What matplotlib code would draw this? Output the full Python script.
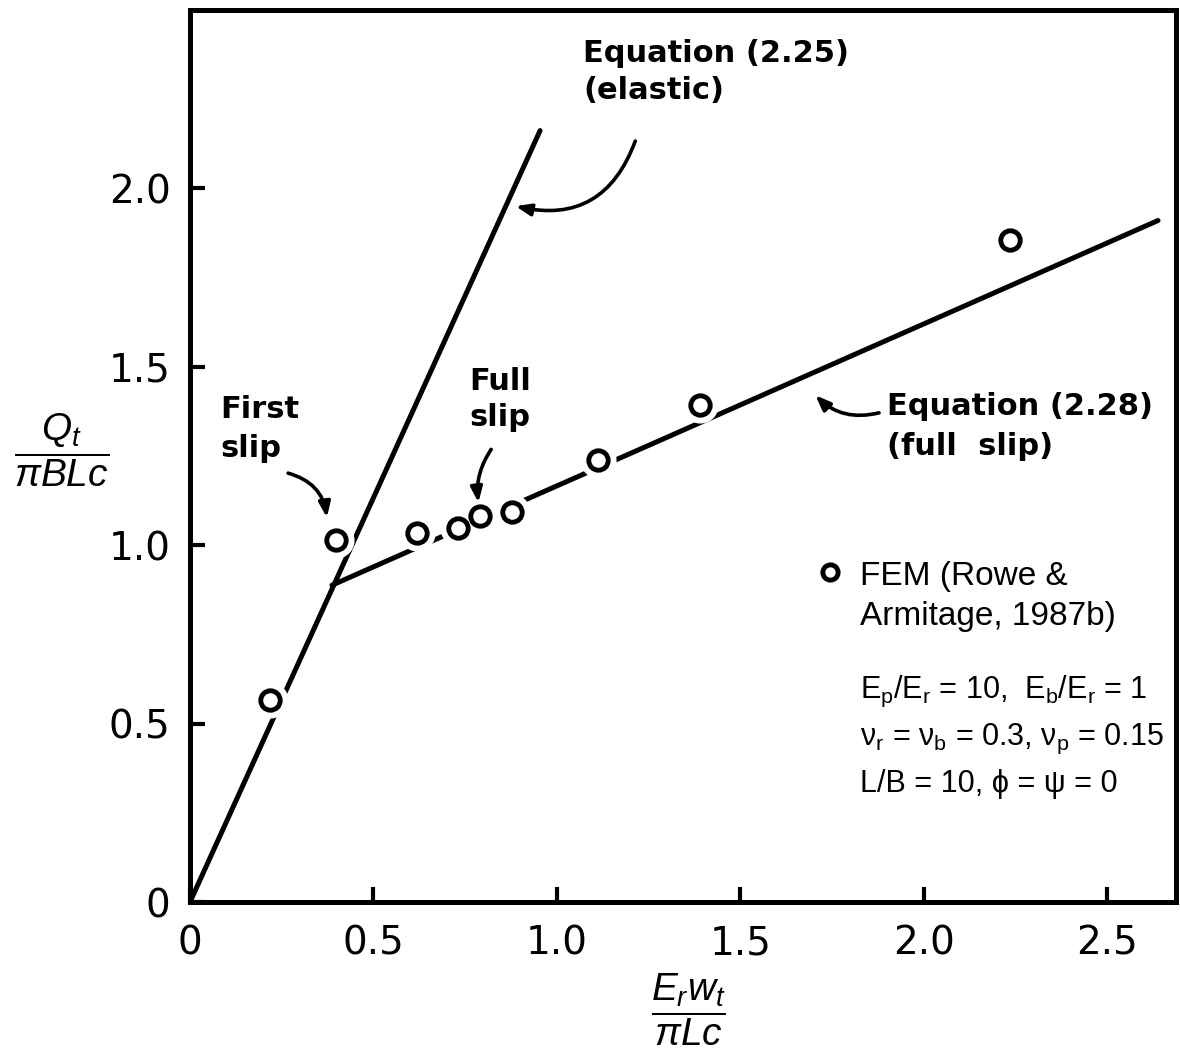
import matplotlib
matplotlib.use("Agg")
import matplotlib.pyplot as plt

plt.rcParams['font.family'] = ['DejaVu Sans']
plt.rcParams['mathtext.fontset'] = 'custom'
plt.rcParams['mathtext.rm'] = 'Liberation Sans'
plt.rcParams['mathtext.it'] = 'Liberation Sans:italic'
plt.rcParams['mathtext.bf'] = 'Liberation Sans:bold'

# ---- data ----
fem_x = [0.218, 0.398, 0.619, 0.730, 0.790, 0.877, 1.112, 1.390, 2.234]
fem_y = [0.566, 1.014, 1.034, 1.048, 1.081, 1.092, 1.238, 1.392, 1.854]
elastic_x = [0.0, 0.954]
elastic_y = [0.0, 2.162]
fullslip_x = [0.387, 2.638]
fullslip_y = [0.888, 1.910]
xticks = [0, 0.5, 1.0, 1.5, 2.0, 2.5]
xticklabels = ["0", "0.5", "1.0", "1.5", "2.0", "2.5"]
yticks = [0, 0.5, 1.0, 1.5, 2.0]
yticklabels = ["0", "0.5", "1.0", "1.5", "2.0"]

fig = plt.figure(figsize=(11.8, 10.56), dpi=100)
ax = fig.add_axes([190/1180, 1-902/1056, (1176-190)/1180, (902-10)/1056])
ax.set_xlim(0, 2.687)
ax.set_ylim(0, 2.50)

lw_line = 3.6
ax.plot(elastic_x, elastic_y, color='black', lw=lw_line, solid_capstyle='round', zorder=2)
ax.plot(fullslip_x, fullslip_y, color='black', lw=lw_line, solid_capstyle='round', zorder=2)
# white halo to break the line around each marker
ax.plot(fem_x, fem_y, ls='none', marker='o', ms=25, mfc='white', mec='white', zorder=3)
ax.plot(fem_x, fem_y, ls='none', marker='o', ms=14, mfc='white', mec='black', mew=3.5, zorder=4)

for s in ax.spines.values():
    s.set_linewidth(3.6)
ax.set_xticks(xticks)
ax.set_xticklabels(xticklabels)
ax.set_yticks(yticks)
ax.set_yticklabels(yticklabels)
ax.tick_params(direction='in', length=11, width=3, labelsize=28, pad=14)
ax.tick_params(axis='x', pad=16)

tfont = dict(fontsize=22, family='DejaVu Sans', fontweight='bold', color='black')
arrow_kw = dict(arrowstyle='-|>,head_length=0.9,head_width=0.35', lw=2.6, color='black')

ax.text(1.071, 2.42, "Equation (2.25)\n(elastic)", ha='left', va='top', linespacing=1.35, **tfont)
ax.annotate("", xy=(0.880, 1.952), xytext=(1.216, 2.140),
            arrowprops=dict(connectionstyle='arc3,rad=-0.45', **arrow_kw))

ax.text(0.082, 1.42, "First\nslip", ha='left', va='top', linespacing=1.4, **tfont)
ax.annotate("", xy=(0.374, 1.070), xytext=(0.260, 1.204),
            arrowprops=dict(connectionstyle='arc3,rad=-0.35', **arrow_kw))

ax.text(0.760, 1.50, "Full\nslip", ha='left', va='top', linespacing=1.3, **tfont)
ax.annotate("", xy=(0.787, 1.112), xytext=(0.825, 1.275),
            arrowprops=dict(connectionstyle='arc3,rad=0.2', **arrow_kw))

ax.text(1.899, 1.43, "Equation (2.28)\n(full  slip)", ha='left', va='top', linespacing=1.5, **tfont)
ax.annotate("", xy=(1.699, 1.426), xytext=(1.885, 1.373),
            arrowprops=dict(connectionstyle='arc3,rad=-0.3', **arrow_kw))

# legend-like key
ax.plot([1.743], [0.924], ls='none', marker='o', ms=11, mfc='white', mec='black', mew=3.5, zorder=4)
ax.text(1.825, 0.955, "FEM (Rowe &\nArmitage, 1987b)", ha='left', va='top', linespacing=1.35,
        fontsize=24, family='Liberation Sans', color='black')

pfont = dict(fontsize=22, family='Liberation Sans', color='black')
params = [r"E$_\mathrm{p}$/E$_\mathrm{r}$ = 10,  E$_\mathrm{b}$/E$_\mathrm{r}$ = 1",
          r"ν$_\mathrm{r}$ = ν$_\mathrm{b}$ = 0.3, ν$_\mathrm{p}$ = 0.15",
          r"L/B = 10, ϕ = ψ = 0"]
for i, p in enumerate(params):
    ax.text(1.825, 0.640 - i * 0.134, p, ha='left', va='top', **pfont)

fig.text(62/1180, 1-450/1056, r"$\dfrac{Q_t}{\pi BLc}$", ha='center', va='center', fontsize=28)
fig.text(688/1180, 1-1010/1056, r"$\dfrac{E_r w_t}{\pi Lc}$", ha='center', va='center', fontsize=28)

fig.savefig("out.png", dpi=100, facecolor='white')
